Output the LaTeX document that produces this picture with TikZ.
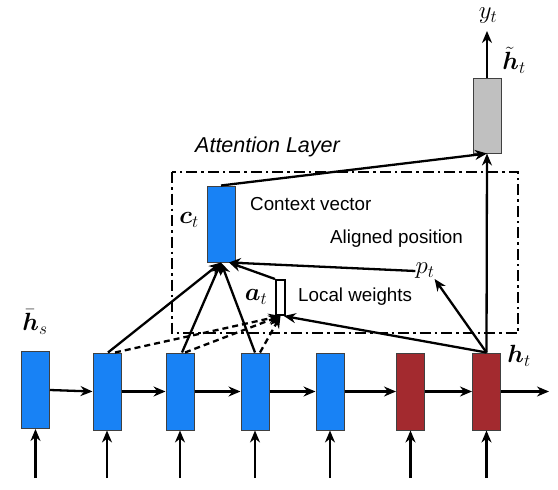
\documentclass[tikz,border=0pt]{standalone}
\usepackage{amsmath,bm}
\usepackage{fontspec}
\setsansfont{Liberation Sans}
\usetikzlibrary{arrows.meta,calc}
\definecolor{encblue}{RGB}{24,130,245}
\definecolor{decred}{RGB}{163,42,47}
\definecolor{outgrey}{RGB}{192,192,192}
\begin{document}
\begin{tikzpicture}[x=1pt,y=-1pt,
  cell/.style={draw=black!75,line width=1pt,minimum width=28pt,minimum height=77pt,inner sep=0pt},
  arr/.style={-{Stealth[length=12pt,width=10pt]},line width=2.3pt},
  darr/.style={arr,dash pattern=on 6pt off 4pt},
  lbl/.style={font=\sffamily\fontsize{18.8}{20}\selectfont,inner sep=0pt},
  mlbl/.style={font=\fontsize{24}{26}\selectfont,inner sep=0pt}]
\useasboundingbox (0,0) rectangle (558,490);
% attention layer frame
\draw[line width=2.3pt,dash pattern=on 11pt off 4pt on 2.5pt off 4pt] (172,172) rectangle (518,333);
\node[lbl,font=\sffamily\itshape\fontsize{21.5}{23}\selectfont] (attn) at (267.5,147) {Attention Layer};
% encoder / decoder cells
\node[cell,fill=encblue] (b1) at (35.5,390) {};
\node[cell,fill=encblue] (b2) at (107,391.5) {};
\node[cell,fill=encblue] (b3) at (180,391.5) {};
\node[cell,fill=encblue] (b4) at (255,391.5) {};
\node[cell,fill=encblue] (b5) at (330,391.5) {};
\node[cell,fill=decred] (b6) at (410.5,391.5) {};
\node[cell,fill=decred] (b7) at (486.5,391.5) {};
% output and context
\node[cell,fill=outgrey,minimum height=75pt] (g) at (487,115.5) {};
\node[cell,fill=encblue,minimum height=76pt] (ct) at (221,224) {};
\node[draw=black,line width=2pt,fill=white,minimum width=9pt,minimum height=35pt,inner sep=0pt] (at) at (280.5,297.5) {};
% labels
\node[mlbl] (lhs) at (35,322) {$\bar{\bm h}_s$};
\node[mlbl] (lht) at (519,356) {$\bm h_t$};
\node[mlbl] (lct) at (189,220) {$\bm c_t$};
\node[mlbl] (lat) at (256,297) {$\bm a_t$};
\node[mlbl] (pt) at (425,271) {$p_t$};
\node[mlbl] (yt) at (488,16) {$y_t$};
\node[mlbl] (lhtt) at (514,60) {$\tilde{\bm h}_t$};
\node[lbl,anchor=west] (cv) at (250,204) {Context vector};
\node[lbl,anchor=west] (ap) at (330,239) {Aligned position};
\node[lbl,anchor=west] (lw) at (298,297) {Local weights};
% coordinates
\coordinate (ytop) at (487,31);
\coordinate (rend) at (549,391.5);
\coordinate (ctin) at ($(ct.south)!0.55!(ct.south east)$);
\coordinate (atin) at ($(at.south)!0.6!(at.south east)$);
\foreach \b/\x in {b1/35.5,b2/107,b3/180,b4/255,b5/330,b6/410.5,b7/486.5}{
  \coordinate (in\b) at (\x,478);
  \draw[arr] (in\b) -- (\b.south);
}
\draw[arr] (b1.east) -- (b2.west);
\draw[arr] (b2.east) -- (b3.west);
\draw[arr] (b3.east) -- (b4.west);
\draw[arr] (b4.east) -- (b5.west);
\draw[arr] (b5.east) -- (b6.west);
\draw[arr] (b6.east) -- (b7.west);
\draw[arr] (b7.east) -- (rend);
% output
\draw[arr] (g.north) -- (ytop);
\draw[arr] (b7.north) -- (g.south);
\draw[arr] (ct.north) -- (g.south);
% to context
\draw[arr] ([xshift=1pt]b2.north) -- (ct.south);
\draw[arr] ([xshift=2pt]b3.north) -- (ct.south);
\draw[arr] (b4.north) -- (ct.south);
\draw[arr] (at.north west) -- (ctin);
\draw[arr] (pt.west) -- (ctin);
% from h_t
\draw[arr] (b7.north) -- (pt.south east);
\draw[arr] (b7.north) -- (atin);
% dashed local weights
\draw[darr] ([xshift=8pt]b2.north) -- (at.south);
\draw[darr] ([xshift=5pt]b3.north) -- (at.south);
\draw[darr] ([xshift=5pt]b4.north) -- (at.south);
\end{tikzpicture}
\end{document}
